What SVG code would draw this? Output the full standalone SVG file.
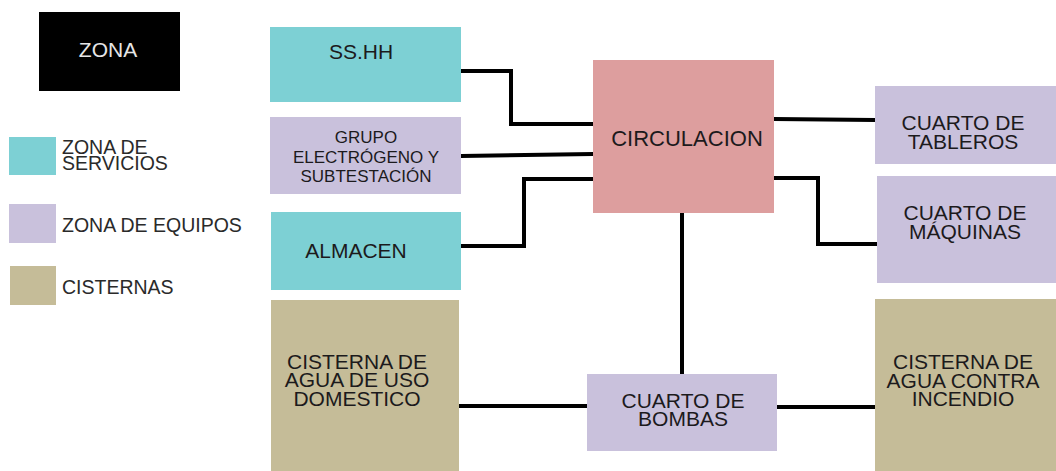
<svg xmlns="http://www.w3.org/2000/svg" width="1056" height="471" viewBox="0 0 1056 471">
<style>
text{font-family:"Liberation Sans",Arial,sans-serif;fill:#1c1a1c;}
.n{font-size:21px;text-anchor:middle;}
.s{font-size:17px;text-anchor:middle;}
.lg{font-size:19.5px;fill:#2a2a2a;}
.cy{fill:#7dd0d4;}
.lv{fill:#c9c1dc;}
.tn{fill:#c5bc98;}
.pk{fill:#dd9e9e;}
.c{fill:none;stroke:#000;stroke-width:4;}
</style>
<rect width="1056" height="471" fill="#fff"/>
<g id="legend">
<rect x="39" y="12" width="141" height="79" fill="#000"/>
<text x="108" y="57" style="font-size:21px;fill:#e6e6e6;text-anchor:middle">ZONA</text>
<rect class="cy" x="9" y="137" width="47" height="38"/>
<text class="lg" x="62" y="154">ZONA DE<tspan x="62" dy="16">SERVICIOS</tspan></text>
<rect class="lv" x="9" y="204" width="47" height="39"/>
<text class="lg" x="62" y="232">ZONA DE EQUIPOS</text>
<rect class="tn" x="10" y="266" width="46" height="39"/>
<text class="lg" x="62" y="294">CISTERNAS</text>
</g>
<g id="connectors">
<polyline class="c" points="461,71 511,71 511,124 593,124"/>
<polyline class="c" points="461,156 593,154"/>
<polyline class="c" points="461,246 524,246 524,179 593,179"/>
<polyline class="c" points="774,119 875,120"/>
<polyline class="c" points="774,178 818,178 818,244 877,244"/>
<polyline class="c" points="682,213 682,374"/>
<polyline class="c" points="459,406 587,406"/>
<polyline class="c" points="777,407 875,407"/>
</g>
<g id="sshh">
<rect class="cy" x="270" y="27" width="191" height="75"/>
<text class="n" x="361" y="59">SS.HH</text>
</g>
<g id="grupo">
<rect class="lv" x="270" y="117" width="191" height="77"/>
<text class="s" x="366" y="143">GRUPO<tspan x="366" dy="20">ELECTRÓGENO Y</tspan><tspan x="366" dy="19">SUBTESTACIÓN</tspan></text>
</g>
<g id="almacen">
<rect class="cy" x="271" y="212" width="190" height="78"/>
<text class="n" x="356" y="258">ALMACEN</text>
</g>
<g id="circulacion">
<rect class="pk" x="593" y="60" width="181" height="153"/>
<text class="n" x="687" y="146" style="font-size:22px">CIRCULACION</text>
</g>
<g id="tableros">
<rect class="lv" x="875" y="86" width="181" height="78"/>
<text class="n" x="963" y="130">CUARTO DE<tspan x="963" dy="19">TABLEROS</tspan></text>
</g>
<g id="maquinas">
<rect class="lv" x="877" y="176" width="179" height="107"/>
<text class="n" x="965" y="220">CUARTO DE<tspan x="965" dy="19">MÁQUINAS</tspan></text>
</g>
<g id="domestico">
<rect class="tn" x="271" y="300" width="188" height="171"/>
<text class="n" x="357" y="369">CISTERNA DE<tspan x="357" dy="18">AGUA DE USO</tspan><tspan x="357" dy="19">DOMESTICO</tspan></text>
</g>
<g id="bombas">
<rect class="lv" x="587" y="374" width="190" height="77"/>
<text class="n" x="683" y="408">CUARTO DE<tspan x="683" dy="18">BOMBAS</tspan></text>
</g>
<g id="incendio">
<rect class="tn" x="875" y="299" width="181" height="172"/>
<text class="n" x="963" y="369">CISTERNA DE<tspan x="963" dy="19">AGUA CONTRA</tspan><tspan x="963" dy="18">INCENDIO</tspan></text>
</g>
</svg>
